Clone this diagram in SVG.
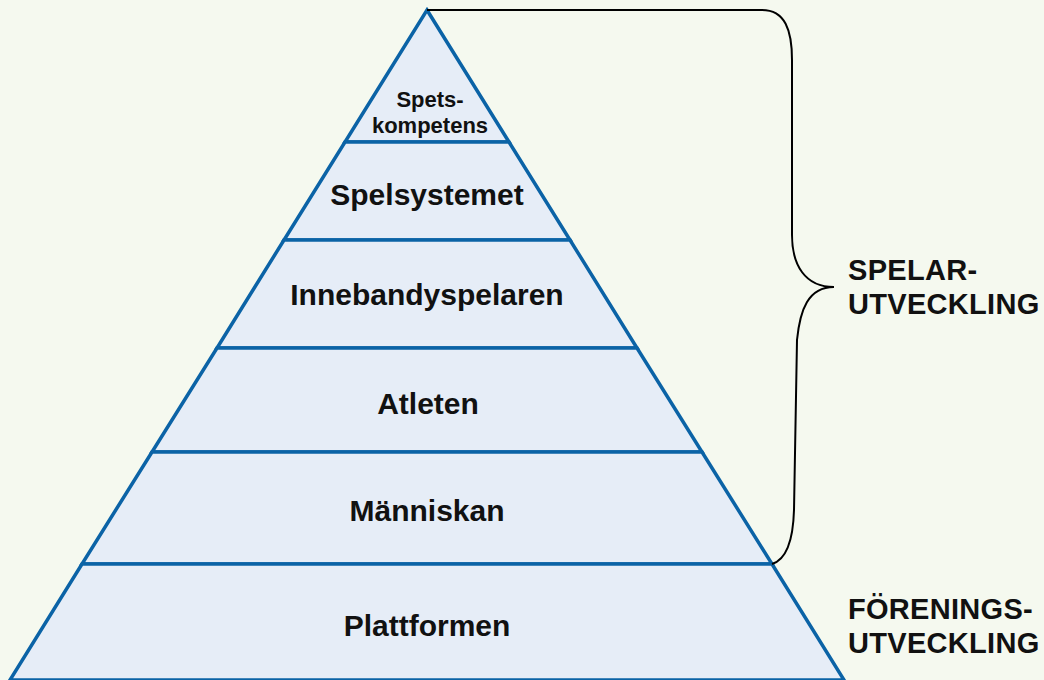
<svg xmlns="http://www.w3.org/2000/svg" width="1044" height="680" viewBox="0 0 1044 680">
<style>
.lvl{fill:#e6edf7;stroke:#0b63a6;stroke-width:3.5;stroke-linejoin:miter}
.t{font-family:"Liberation Sans",Arial,sans-serif;font-weight:bold;fill:#111;text-anchor:middle}
.big{font-size:30px}
.small{font-size:22px}
.side{font-family:"Liberation Sans",Arial,sans-serif;font-weight:bold;fill:#111;font-size:29px;letter-spacing:0.3px}
.brace{fill:none;stroke:#000;stroke-width:2}
</style>
<rect width="1044" height="680" fill="#f5f9ef"/>
<g id="pyramid">
<g id="lvl-spets">
<polygon class="lvl" points="427,10 509,142 345,142"/>
<text class="t small" x="430" y="107">Spets-</text>
<text class="t small" x="430" y="133">kompetens</text>
</g>
<g id="lvl-spelsystemet">
<polygon class="lvl" points="345,142 509,142 570,240 284,240"/>
<text class="t big" x="427" y="205">Spelsystemet</text>
</g>
<g id="lvl-innebandyspelaren">
<polygon class="lvl" points="284,240 570,240 637,348 217,348"/>
<text class="t big" x="427" y="305">Innebandyspelaren</text>
</g>
<g id="lvl-atleten">
<polygon class="lvl" points="217,348 637,348 702,452 152,452"/>
<text class="t big" x="428" y="414">Atleten</text>
</g>
<g id="lvl-manniskan">
<polygon class="lvl" points="152,452 702,452 772,564 82,564"/>
<text class="t big" x="427" y="521">Människan</text>
</g>
<g id="lvl-plattformen">
<polygon class="lvl" points="82,564 772,564 844,680 10,680"/>
<text class="t big" x="427" y="636">Plattformen</text>
</g>
</g>
<g id="connectors">
<path class="brace" d="M427,10 L762,10 C785,10 792,30 792,60 L792,235 C792,265 805,287 834,287 C808,287 800,310 797,340 L794,510 C793,545 785,560 772,564"/>
</g>
<g id="label-spelar">
<text class="side" x="848" y="280">SPELAR-</text>
<text class="side" x="848" y="314">UTVECKLING</text>
</g>
<g id="label-forenings">
<text class="side" x="848" y="619">FÖRENINGS-</text>
<text class="side" x="848" y="653">UTVECKLING</text>
</g>
</svg>
